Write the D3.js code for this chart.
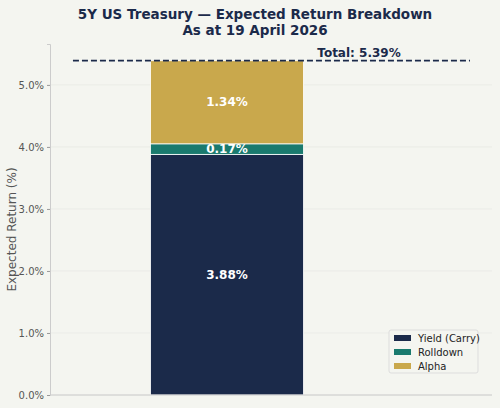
<!DOCTYPE html><html><head><meta charset="utf-8"><script src="https://cdn.jsdelivr.net/npm/d3@7"></script>
<style>body{margin:0;background:#f4f5f0}svg{font-family:"DejaVu Sans",sans-serif}</style></head><body><svg width="500" height="408"></svg><script>
const components=["Yield (Carry)","Rolldown","Alpha"];
const values=[3.88,0.17,1.34];
const colors=["#1b2a4a","#1a7a6e","#c9a84c"];
const yTicks=[0,1,2,3,4,5];
const total=5.39;
const svg=d3.select("svg");
const W=500,H=408,L=50,R=492,T=44,B=395;
svg.append("rect").attr("width",W).attr("height",H).attr("fill","#f4f5f0");
const y=d3.scaleLinear().domain([0,total*1.05]).range([B,T]);
const x=d3.scaleLinear().domain([-1.157,1.732]).range([L,R]);
const bw=1;
svg.append("g").selectAll("line").data(yTicks).join("line").attr("x1",L).attr("x2",R).attr("y1",d=>y(d)).attr("y2",d=>y(d)).attr("stroke","#e4e5e0").attr("stroke-width",0.6);
let cum=0;
values.forEach((v,i)=>{const y0=cum;cum+=v;
svg.append("rect").attr("x",x(-bw/2)).attr("width",x(bw/2)-x(-bw/2)).attr("y",y(cum)).attr("height",y(y0)-y(cum)).attr("fill",colors[i]).attr("stroke","#fff").attr("stroke-width",0.8);
svg.append("text").attr("x",x(0)).attr("y",y(y0+v/2)+4).attr("text-anchor","middle").attr("fill","#fff").attr("font-weight","bold").attr("font-size",12).text(v.toFixed(2)+"%");});
svg.append("line").attr("x1",x(-1.007)).attr("x2",x(1.588)).attr("y1",y(total)).attr("y2",y(total)).attr("stroke","#1b2a4a").attr("stroke-width",1.8).attr("stroke-dasharray","6,3");
svg.append("text").attr("x",359).attr("y",y(total)-4).attr("text-anchor","middle").attr("font-weight","bold").attr("font-size",12).attr("fill","#1b2a4a").text("Total: "+total.toFixed(2)+"%");
const ax=svg.append("g").attr("transform",`translate(${L},0)`).call(d3.axisLeft(y).tickValues(yTicks).tickFormat(d=>d.toFixed(1)+"%").tickSize(3));
ax.select(".domain").attr("stroke","#ccc");ax.selectAll(".tick line").attr("stroke","#999");
ax.selectAll("text").attr("fill","#555").attr("font-size",10).attr("font-family","DejaVu Sans");
svg.append("line").attr("x1",L).attr("x2",R).attr("y1",B).attr("y2",B).attr("stroke","#ccc");
svg.append("text").attr("transform",`translate(16,${(T+B)/2+10}) rotate(-90)`).attr("text-anchor","middle").attr("font-size",12).attr("fill","#555").text("Expected Return (%)");
svg.append("text").attr("x",255).attr("y",19).attr("text-anchor","middle").attr("font-weight","bold").attr("font-size",13.5).attr("fill","#1b2a4a").text("5Y US Treasury — Expected Return Breakdown");
svg.append("text").attr("x",255).attr("y",35).attr("text-anchor","middle").attr("font-weight","bold").attr("font-size",13.5).attr("fill","#1b2a4a").text("As at 19 April 2026");
const lg=svg.append("g").attr("transform","translate(389,330)");
lg.append("rect").attr("width",89).attr("height",43).attr("fill","#f4f5f0").attr("stroke","#ddd").attr("rx",2);
components.forEach((c,i)=>{lg.append("rect").attr("x",5).attr("y",5+i*14).attr("width",17).attr("height",6).attr("fill",colors[i]);
lg.append("text").attr("x",29).attr("y",12+i*14).attr("font-size",10).attr("fill","#222").text(c);});
</script></body></html>
